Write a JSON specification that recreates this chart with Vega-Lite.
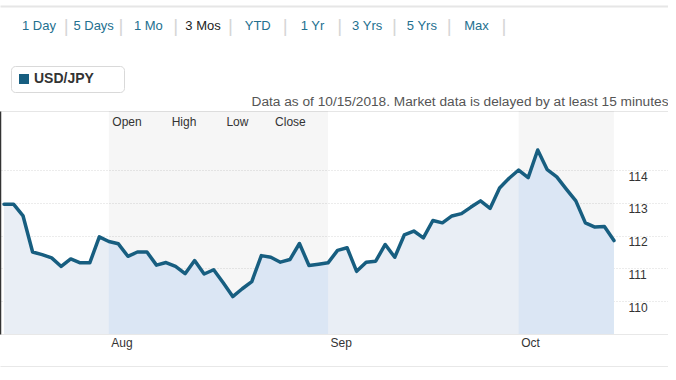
{
  "$schema": "https://vega.github.io/schema/vega-lite/v6.json",
  "padding": {"left": 0, "top": 6, "right": 0, "bottom": 0},
  "background": "white",
  "spacing": 19,
  "config": {"font": "Liberation Sans", "view": {"stroke": null}},
  "resolve": {"scale": {"color": "independent"}, "legend": {"color": "independent"}},
  "datasets": {
    "tabs": [
      {"label": "1 Day"}, {"label": "5 Days"}, {"label": "1 Mo"}, {"label": "3 Mos"}, {"label": "YTD"},
      {"label": "1 Yr"}, {"label": "3 Yrs"}, {"label": "5 Yrs"}, {"label": "Max"}
    ],
    "fx": [
      {"date": "2018-07-17", "close": 112.96}, {"date": "2018-07-18", "close": 112.96}, {"date": "2018-07-19", "close": 112.60},
      {"date": "2018-07-20", "close": 111.50}, {"date": "2018-07-23", "close": 111.42}, {"date": "2018-07-24", "close": 111.32},
      {"date": "2018-07-25", "close": 111.06}, {"date": "2018-07-26", "close": 111.29}, {"date": "2018-07-27", "close": 111.17},
      {"date": "2018-07-30", "close": 111.17}, {"date": "2018-07-31", "close": 111.96},
      {"date": "2018-08-01", "close": 111.82}, {"date": "2018-08-02", "close": 111.75}, {"date": "2018-08-03", "close": 111.37},
      {"date": "2018-08-06", "close": 111.50}, {"date": "2018-08-07", "close": 111.50}, {"date": "2018-08-08", "close": 111.10},
      {"date": "2018-08-09", "close": 111.18}, {"date": "2018-08-10", "close": 111.06}, {"date": "2018-08-13", "close": 110.84},
      {"date": "2018-08-14", "close": 111.24}, {"date": "2018-08-15", "close": 110.83}, {"date": "2018-08-16", "close": 110.96},
      {"date": "2018-08-17", "close": 110.56}, {"date": "2018-08-20", "close": 110.14}, {"date": "2018-08-21", "close": 110.38},
      {"date": "2018-08-22", "close": 110.60}, {"date": "2018-08-23", "close": 111.39}, {"date": "2018-08-24", "close": 111.34},
      {"date": "2018-08-27", "close": 111.19}, {"date": "2018-08-28", "close": 111.27}, {"date": "2018-08-29", "close": 111.76},
      {"date": "2018-08-30", "close": 111.09}, {"date": "2018-08-31", "close": 111.13},
      {"date": "2018-09-03", "close": 111.17}, {"date": "2018-09-04", "close": 111.55}, {"date": "2018-09-05", "close": 111.63},
      {"date": "2018-09-06", "close": 110.91}, {"date": "2018-09-07", "close": 111.19}, {"date": "2018-09-10", "close": 111.22},
      {"date": "2018-09-11", "close": 111.73}, {"date": "2018-09-12", "close": 111.34}, {"date": "2018-09-13", "close": 112.02},
      {"date": "2018-09-14", "close": 112.14}, {"date": "2018-09-17", "close": 111.93}, {"date": "2018-09-18", "close": 112.46},
      {"date": "2018-09-19", "close": 112.39}, {"date": "2018-09-20", "close": 112.60}, {"date": "2018-09-21", "close": 112.67},
      {"date": "2018-09-24", "close": 112.87}, {"date": "2018-09-25", "close": 113.06}, {"date": "2018-09-26", "close": 112.83},
      {"date": "2018-09-27", "close": 113.45}, {"date": "2018-09-28", "close": 113.75},
      {"date": "2018-10-01", "close": 114.00}, {"date": "2018-10-02", "close": 113.77}, {"date": "2018-10-03", "close": 114.61},
      {"date": "2018-10-04", "close": 114.01}, {"date": "2018-10-05", "close": 113.79}, {"date": "2018-10-08", "close": 113.42},
      {"date": "2018-10-09", "close": 113.06}, {"date": "2018-10-10", "close": 112.39}, {"date": "2018-10-11", "close": 112.26},
      {"date": "2018-10-12", "close": 112.28}, {"date": "2018-10-15", "close": 111.85}
    ]
  },
  "vconcat": [
    {
      "width": 668,
      "height": 40,
      "data": {"name": "tabs"},
      "layer": [
        {
          "mark": {"type": "text", "fontSize": 13},
          "encoding": {
            "x": {
              "field": "label", "type": "nominal", "sort": null,
              "scale": {"type": "band", "domain": ["1 Day", "5 Days", "1 Mo", "3 Mos", "YTD", "1 Yr", "3 Yrs", "5 Yrs", "Max", "_a", "_b", "_c"],
                        "paddingInner": 0, "paddingOuter": 0.106, "align": 1},
              "axis": {"orient": "top", "labels": false, "ticks": false, "title": null, "domain": true, "domainColor": "#e6e6e6", "domainWidth": 2, "grid": false}
            },
            "text": {"field": "label"},
            "color": {"condition": {"test": "datum.label === '3 Mos'", "value": "#222222"}, "value": "#23708f"}
          }
        },
        {
          "mark": {"type": "text", "fontSize": 19, "color": "#d6d6d6"},
          "encoding": {
            "x": {"field": "label", "type": "nominal", "sort": null, "bandPosition": 1},
            "text": {"value": "|"}
          }
        }
      ]
    },
    {
      "width": 668,
      "height": 223,
      "data": {"name": "fx"},
      "resolve": {"axis": {"x": "independent", "y": "independent"}},
      "layer": [
        {
          "transform": [{"filter": "datum.date >= '2018-08-01' && datum.date <= '2018-09-03'"}],
          "mark": {"type": "area", "fill": "#000000", "fillOpacity": 0.035},
          "encoding": {
            "x": {"field": "date", "type": "ordinal",
                  "scale": {"type": "point", "padding": 0.546, "align": 0.385,
                            "domain": ["2018-07-17", "2018-07-18", "2018-07-19", "2018-07-20", "2018-07-23", "2018-07-24", "2018-07-25", "2018-07-26", "2018-07-27", "2018-07-30", "2018-07-31",
                                       "2018-08-01", "2018-08-02", "2018-08-03", "2018-08-06", "2018-08-07", "2018-08-08", "2018-08-09", "2018-08-10", "2018-08-13", "2018-08-14", "2018-08-15", "2018-08-16", "2018-08-17", "2018-08-20", "2018-08-21", "2018-08-22", "2018-08-23", "2018-08-24", "2018-08-27", "2018-08-28", "2018-08-29", "2018-08-30", "2018-08-31",
                                       "2018-09-03", "2018-09-04", "2018-09-05", "2018-09-06", "2018-09-07", "2018-09-10", "2018-09-11", "2018-09-12", "2018-09-13", "2018-09-14", "2018-09-17", "2018-09-18", "2018-09-19", "2018-09-20", "2018-09-21", "2018-09-24", "2018-09-25", "2018-09-26", "2018-09-27", "2018-09-28",
                                       "2018-10-01", "2018-10-02", "2018-10-03", "2018-10-04", "2018-10-05", "2018-10-08", "2018-10-09", "2018-10-10", "2018-10-11", "2018-10-12", "2018-10-15",
                                       "2018-10-16", "2018-10-17", "2018-10-18", "2018-10-19", "2018-10-22"]},
                  "axis": {"orient": "bottom", "offset": 33, "labels": false, "ticks": false, "title": null, "grid": false, "domain": true, "domainColor": "#e8e8e8", "domainWidth": 3}},
            "y": {"field": "close", "type": "quantitative", "scale": {"domain": [109, 115.8], "zero": false, "nice": false}, "axis": null},
            "y2": {"datum": 115.8}
          }
        },
        {
          "transform": [{"filter": "datum.date >= '2018-10-01'"}],
          "mark": {"type": "area", "fill": "#000000", "fillOpacity": 0.035},
          "encoding": {
            "x": {"field": "date", "type": "ordinal", "axis": null},
            "y": {"field": "close", "type": "quantitative", "axis": null},
            "y2": {"datum": 115.8}
          }
        },
        {
          "mark": {"type": "area", "fill": "#e9eef5"},
          "encoding": {
            "x": {"field": "date", "type": "ordinal",
                  "axis": {"orient": "top", "labels": false, "ticks": false, "grid": false, "domain": true, "domainColor": "#e6e6e6",
                           "title": "Data as of 10/15/2018. Market data is delayed by at least 15 minutes",
                           "titleAnchor": "end", "titleFontSize": 13.7, "titleFontWeight": "normal", "titleColor": "#555555", "titlePadding": 3}},
            "y": {"field": "close", "type": "quantitative",
                  "axis": {"orient": "left", "labels": false, "ticks": false, "grid": false, "domain": true, "domainColor": "#333333", "domainWidth": 1.5, "title": null}},
            "y2": {"datum": 109}
          }
        },
        {
          "transform": [{"filter": "datum.date >= '2018-08-01' && datum.date <= '2018-09-03'"}],
          "mark": {"type": "area", "fill": "#dbe6f4"},
          "encoding": {
            "x": {"field": "date", "type": "ordinal", "axis": null},
            "y": {"field": "close", "type": "quantitative", "axis": null},
            "y2": {"datum": 109}
          }
        },
        {
          "transform": [{"filter": "datum.date >= '2018-10-01'"}],
          "mark": {"type": "area", "fill": "#dbe6f4"},
          "encoding": {
            "x": {"field": "date", "type": "ordinal", "axis": null},
            "y": {"field": "close", "type": "quantitative", "axis": null},
            "y2": {"datum": 109}
          }
        },
        {
          "mark": {"type": "line", "strokeWidth": 3.5, "strokeJoin": "round", "strokeCap": "round"},
          "encoding": {
            "x": {"field": "date", "type": "ordinal",
                  "axis": {"orient": "bottom", "values": ["2018-08-01", "2018-09-03", "2018-10-01"],
                           "labelExpr": "datum.value == '2018-08-01' ? 'Aug' : (datum.value == '2018-09-03' ? 'Sep' : 'Oct')",
                           "labelAngle": 0, "labelAlign": "left", "labelBaseline": "top", "labelPadding": 3, "labelOffset": 2,
                           "labelFontSize": 12, "labelColor": "#333333", "ticks": false, "grid": false,
                           "domain": true, "domainColor": "#e8e8e8", "title": null}},
            "y": {"field": "close", "type": "quantitative",
                  "axis": {"orient": "right", "values": [110, 111, 112, 113, 114], "labelPadding": -40, "labelAlign": "left",
                           "labelBaseline": "top", "labelOffset": 1, "labelFontSize": 12, "labelColor": "#333333",
                           "ticks": false, "domain": false, "grid": true, "gridColor": "#d9d9d9", "gridDash": [1, 2], "title": null}},
            "color": {
              "datum": "USD/JPY",
              "scale": {"range": ["#175e80"]},
              "legend": {
                "orient": "none", "legendX": 11, "legendY": -45, "title": null,
                "symbolType": "square", "symbolSize": 100, "symbolStrokeWidth": 0, "symbolFillColor": "#175e80",
                "labelFontSize": 14, "labelFontWeight": "bold", "labelColor": "#333333", "labelOffset": 3,
                "labelExpr": "datum.label + '\u00a0\u00a0\u00a0\u00a0\u00a0\u00a0\u200b'",
                "strokeColor": "#d9d9d9", "fillColor": "#ffffff", "cornerRadius": 4, "padding": 6,
                "encode": {"symbols": {"update": {"fill": {"value": "#175e80"}, "stroke": {"value": "#175e80"}, "strokeWidth": {"value": 0}}}}
              }
            }
          }
        },
        {
          "data": {"values": [{"t": "ohlc"}]},
          "mark": {"type": "text", "align": "left", "baseline": "top", "dx": 3.5, "dy": 6, "fontSize": 12, "color": "#333333"},
          "encoding": {
            "x": {"datum": "2018-08-01", "type": "ordinal", "axis": null},
            "y": {"datum": 115.8, "type": "quantitative", "axis": null},
            "text": {"value": "Open\u00a0\u00a0\u00a0\u00a0\u00a0\u00a0\u00a0\u00a0\u00a0High\u00a0\u00a0\u00a0\u00a0\u00a0\u00a0\u00a0\u00a0\u00a0Low\u00a0\u00a0\u00a0\u00a0\u00a0\u00a0\u00a0\u00a0Close"}
          }
        }
      ]
    }
  ]
}
